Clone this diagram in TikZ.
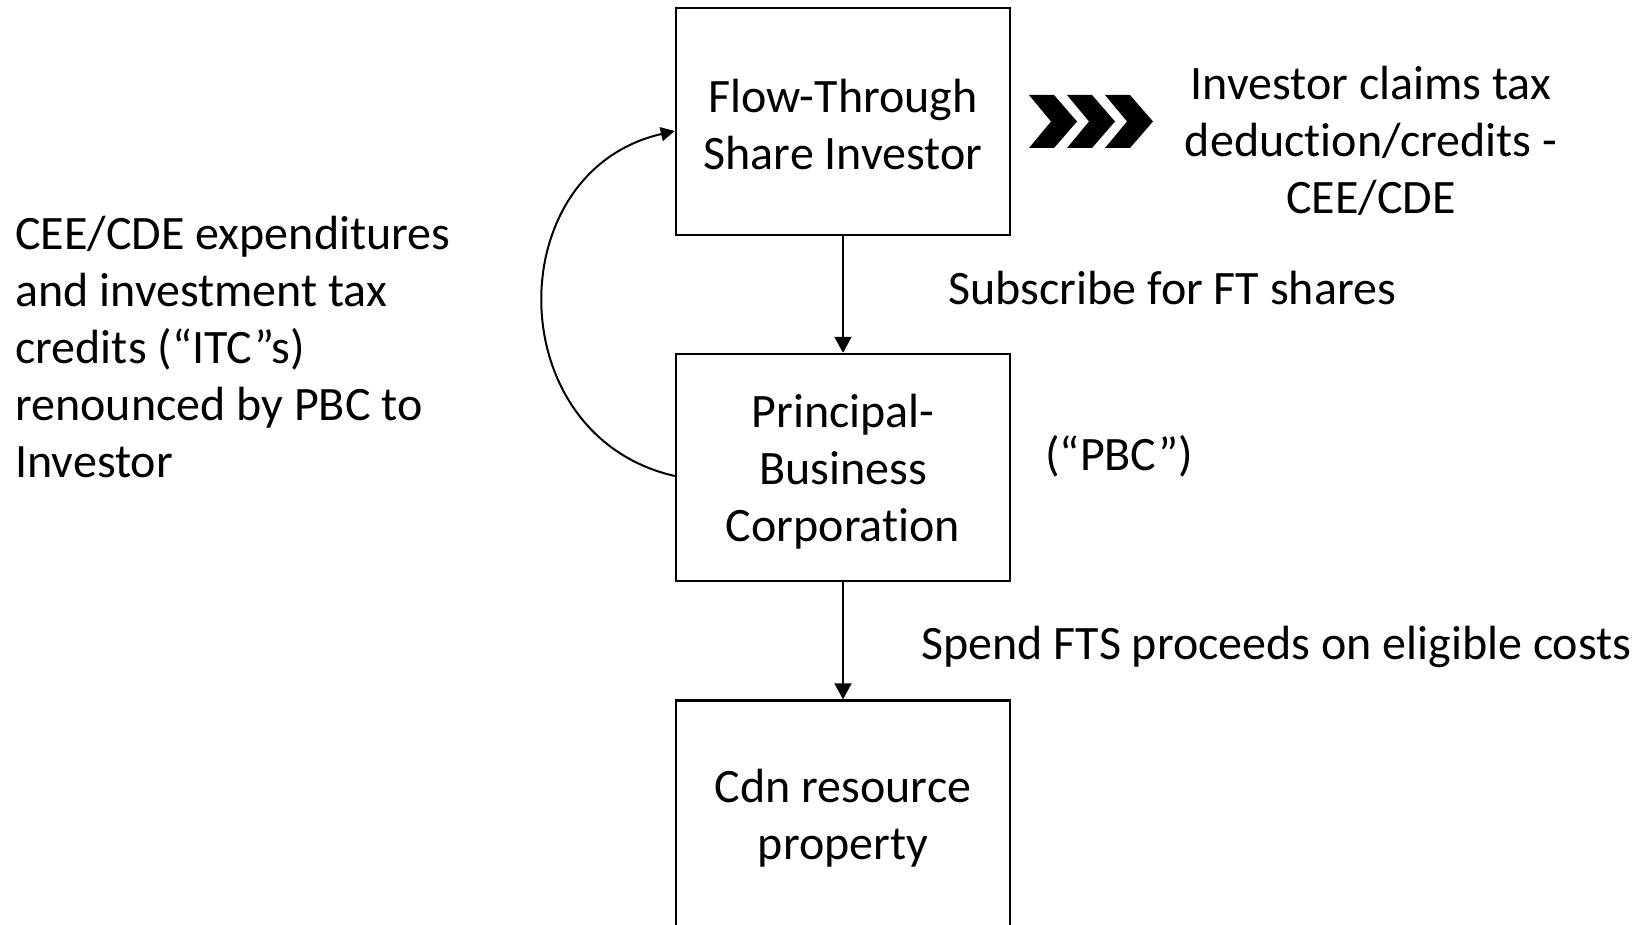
\documentclass[tikz,border=0pt]{standalone}
\usepackage{fontspec}
\setmainfont{Carlito}[Ligatures=NoCommon]
\usetikzlibrary{arrows.meta}
\begin{document}
\begin{tikzpicture}[x=0.5pt,y=-0.5pt,
  every node/.style={font=\fontsize{24}{28.6}\selectfont, inner sep=0pt},
  flowbox/.style={draw, line width=1.2pt, minimum width=167pt, minimum height=113.5pt},
  boxtext/.style={align=center},
  flowarrow/.style={line width=1pt, -{Triangle[length=8pt,width=8.5pt]}},
  label/.style={align=left, anchor=west},
  chevron/.style={fill=black, draw=none}]
  \useasboundingbox (0,0) rectangle (1644,925);
  \clip (0,0) rectangle (1644,925);

  % boxes
  \node[flowbox] (fts) at (843,121.5) {};
  \node[flowbox] (pbc) at (843,467.5) {};
  \node[flowbox] (cdn) at (843,814) {};
  \node[boxtext] (ftstext) at ([yshift=-1.5pt]fts.center) {Flow-Through\\Share Investor};
  \node[boxtext] (pbctext) at ([yshift=-2pt]pbc.center) {Principal-\\Business\\Corporation};
  \node[boxtext] (cdntext) at ([yshift=-2pt]cdn.center) {Cdn resource\\property};

  % vertical flow
  \draw[flowarrow] (fts.south) -- (pbc.north);
  \draw[flowarrow] (pbc.south) -- (cdn.north);

  % renunciation loop back to the investor
  \coordinate (loopstart) at (pbc.west |- 0,476);
  \coordinate (loopend) at (fts.west |- 0,131);
  \draw[line width=1pt, -{Triangle[length=7pt,width=7pt]}]
    (loopstart) .. controls (499,436) and (499,171) .. (loopend);

  % chevrons
  \foreach \x in {1029,1067,1105} {
    \fill[chevron] (\x,95) -- (\x+25,95) -- (\x+48,121.5) -- (\x+25,148)
      -- (\x,148) -- (\x+22,121.5) -- cycle;
  }

  % labels
  \node[align=center] (claims) at (1371,141) {Investor claims tax\\deduction/credits -\\CEE/CDE};
  \node[label] (subscribe) at (948,288) {Subscribe for FT shares};
  \node[label] (pbcname) at (1045,456) {(“PBC”)};
  \node[label] (spend) at (921,647) {Spend FTS proceeds on eligible costs};
  \node[label] (renounce) at (15,347) {CEE/CDE expenditures\\and investment tax\\credits (“ITC”s)\\renounced by PBC to\\Investor};
\end{tikzpicture}
\end{document}
